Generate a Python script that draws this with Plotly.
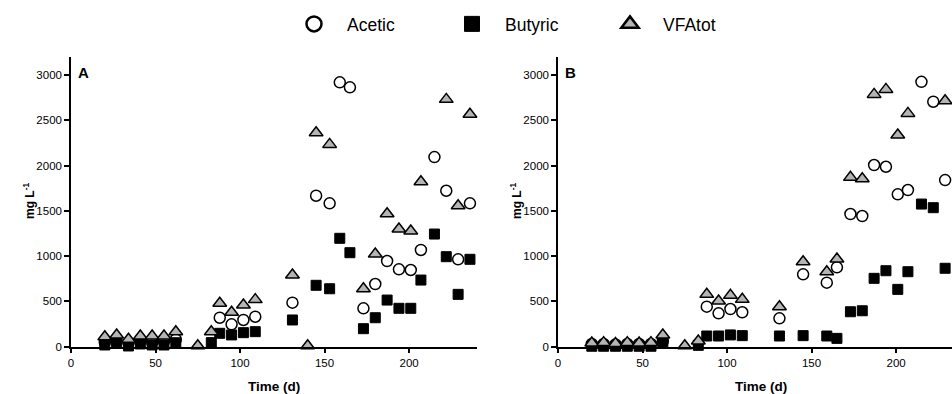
import plotly.graph_objects as go

W, H = 952, 394

days = [20, 27, 34, 41, 48, 55, 62, 75, 83, 88, 95, 102, 109, 131, 140, 145, 153,
        159, 165, 173, 180, 187, 194, 201, 207, 215, 222, 229, 236]

# Panel A
a_acetic = [50, 60, 40, 60, 50, 60, 80, None, None, 320, 247, 295, 331, 486, None, 1667, 1583,
            2919, 2864, 424, 692, 946, 854, 847, 1068, 2094, 1722, 965, 1583]
a_butyric = [19, 37, 8, 30, 19, 19, 44, None, 45, 148, 130, 155, 166, 295, None, 678, 640,
             1197, 1038, 199, 320, 515, 424, 424, 736, 1244, 994, 578, 965]
a_vfatot = [110, 129, 82, 118, 118, 118, 166, 10, 165, 480, 380, 460, 520, 791, 10, 2363, 2234,
            None, None, 640, 1023, 1468, 1300, 1277, 1822, None, 2731, 1557, 2566]

# Panel B
b_acetic = [30, 30, 25, 30, 30, 30, 60, None, None, 442, 368, 416, 380, 313, None, 799, None,
            707, 876, 1465, 1443, 2006, 1987, 1682, 1730, 2925, 2705, 1840, None]
b_butyric = [5, 5, 5, 5, 5, 5, 37, None, 15, 118, 118, 130, 122, 118, None, 122, None,
             118, 92, 386, 397, 755, 839, 633, 828, 1575, 1535, 866, None]
b_vfatot = [40, 45, 35, 45, 40, 45, 130, 10, 63, 578, 504, 567, 523, 442, None, 938, None,
            828, 968, 1870, 1855, 2786, 2841, 2337, 2576, None, None, 2716, None]

series_names = ["Acetic", "Butyric", "VFAtot"]
x_ticks = [0, 50, 100, 150, 200]
y_ticks = [0, 500, 1000, 1500, 2000, 2500, 3000]
panel_labels = ["A", "B"]

FONT = "Liberation Sans, Arial, sans-serif"
GRAY = "#b4b4b4"

styles = {
    "Acetic": dict(symbol="circle", color="white", line=dict(color="black", width=1.5)),
    "Butyric": dict(symbol="square", color="black", line=dict(color="black", width=1)),
    "VFAtot": dict(symbol="triangle-up", color=GRAY, line=dict(color="black", width=1.5)),
}
sizes = {"Acetic": 11, "Butyric": 10, "VFAtot": 12}

fig = go.Figure()

panels = [("x", "y", [a_acetic, a_butyric, a_vfatot]),
          ("x2", "y2", [b_acetic, b_butyric, b_vfatot])]
for xa, ya, data in panels:
    for name, vals in zip(series_names, data):
        st = styles[name]
        fig.add_trace(go.Scatter(
            x=days, y=vals, mode="markers", xaxis=xa, yaxis=ya, showlegend=False,
            cliponaxis=False, name=name, hoverinfo="skip",
            marker=dict(symbol=st["symbol"], color=st["color"], size=sizes[name], line=st["line"]),
        ))

# legend-only entries
for name in series_names:
    st = styles[name]
    fig.add_trace(go.Scatter(
        x=[None], y=[None], mode="markers", name=name, showlegend=True,
        marker=dict(symbol=st["symbol"], color=st["color"], size=15,
                    line=dict(color="black", width=2.5 if name != "Butyric" else 1)),
    ))

px_per_day = (476.7 - 71) / 240
xA = [71 / W, 476.7 / W]
xB = [558 / W, 1.0]
b_max = (W - 558) / px_per_day
y_dom = [(H - 346.7) / H, (H - 56.9) / H]

axis_common = dict(showline=True, linecolor="black", linewidth=1.5, ticks="outside",
                   ticklen=5, tickwidth=1.5, tickcolor="black", showgrid=False, zeroline=False,
                   automargin=False,
                   tickfont=dict(family=FONT, size=11.5, color="black"))

fig.update_layout(
    template="none",
    width=W, height=H, autosize=False,
    margin=dict(l=0, r=0, t=0, b=0, pad=0, autoexpand=False),
    paper_bgcolor="white", plot_bgcolor="white",
    font=dict(family=FONT, color="black"),
    xaxis=dict(domain=xA, range=[0, 240], tickvals=x_ticks, anchor="y", **axis_common),
    yaxis=dict(domain=y_dom, range=[0, 3200], tickvals=y_ticks, anchor="x", **axis_common),
    xaxis2=dict(domain=xB, range=[0, b_max], tickvals=x_ticks, anchor="y2", **axis_common),
    yaxis2=dict(domain=y_dom, range=[0, 3200], tickvals=y_ticks, anchor="x2", **axis_common),
    legend=dict(orientation="h", x=281 / W, xanchor="left", y=(H - 24) / H, yanchor="middle",
                font=dict(family=FONT, size=17.5, color="black"), entrywidth=87,
                entrywidthmode="pixels", itemwidth=56, bgcolor="rgba(0,0,0,0)",
                itemsizing="trace"),
)

for lbl, xd in zip(panel_labels, [xA, xB]):
    fig.add_annotation(text="<b>%s</b>" % lbl, xref="paper", yref="paper",
                       x=xd[0] + 5 / W, y=(H - 72) / H, xanchor="left", yanchor="middle",
                       showarrow=False, font=dict(family=FONT, size=15, color="black"))

for xc in [274, 761]:
    fig.add_annotation(text="<b>Time (d)</b>", xref="paper", yref="paper",
                       x=xc / W, y=(H - 386) / H, xanchor="center", yanchor="middle",
                       showarrow=False, font=dict(family=FONT, size=13.5, color="black"))

for xc in [29, 516]:
    fig.add_annotation(text="<b>mg L<sup>-1</sup></b>", xref="paper", yref="paper",
                       x=xc / W, y=(H - 201) / H, xanchor="center", yanchor="middle",
                       textangle=-90, showarrow=False,
                       font=dict(family=FONT, size=12, color="black"))

fig.write_html("out.html", config={"displayModeBar": False, "responsive": False},
               post_script="document.body.style.margin='0';document.body.style.overflow='hidden';")
